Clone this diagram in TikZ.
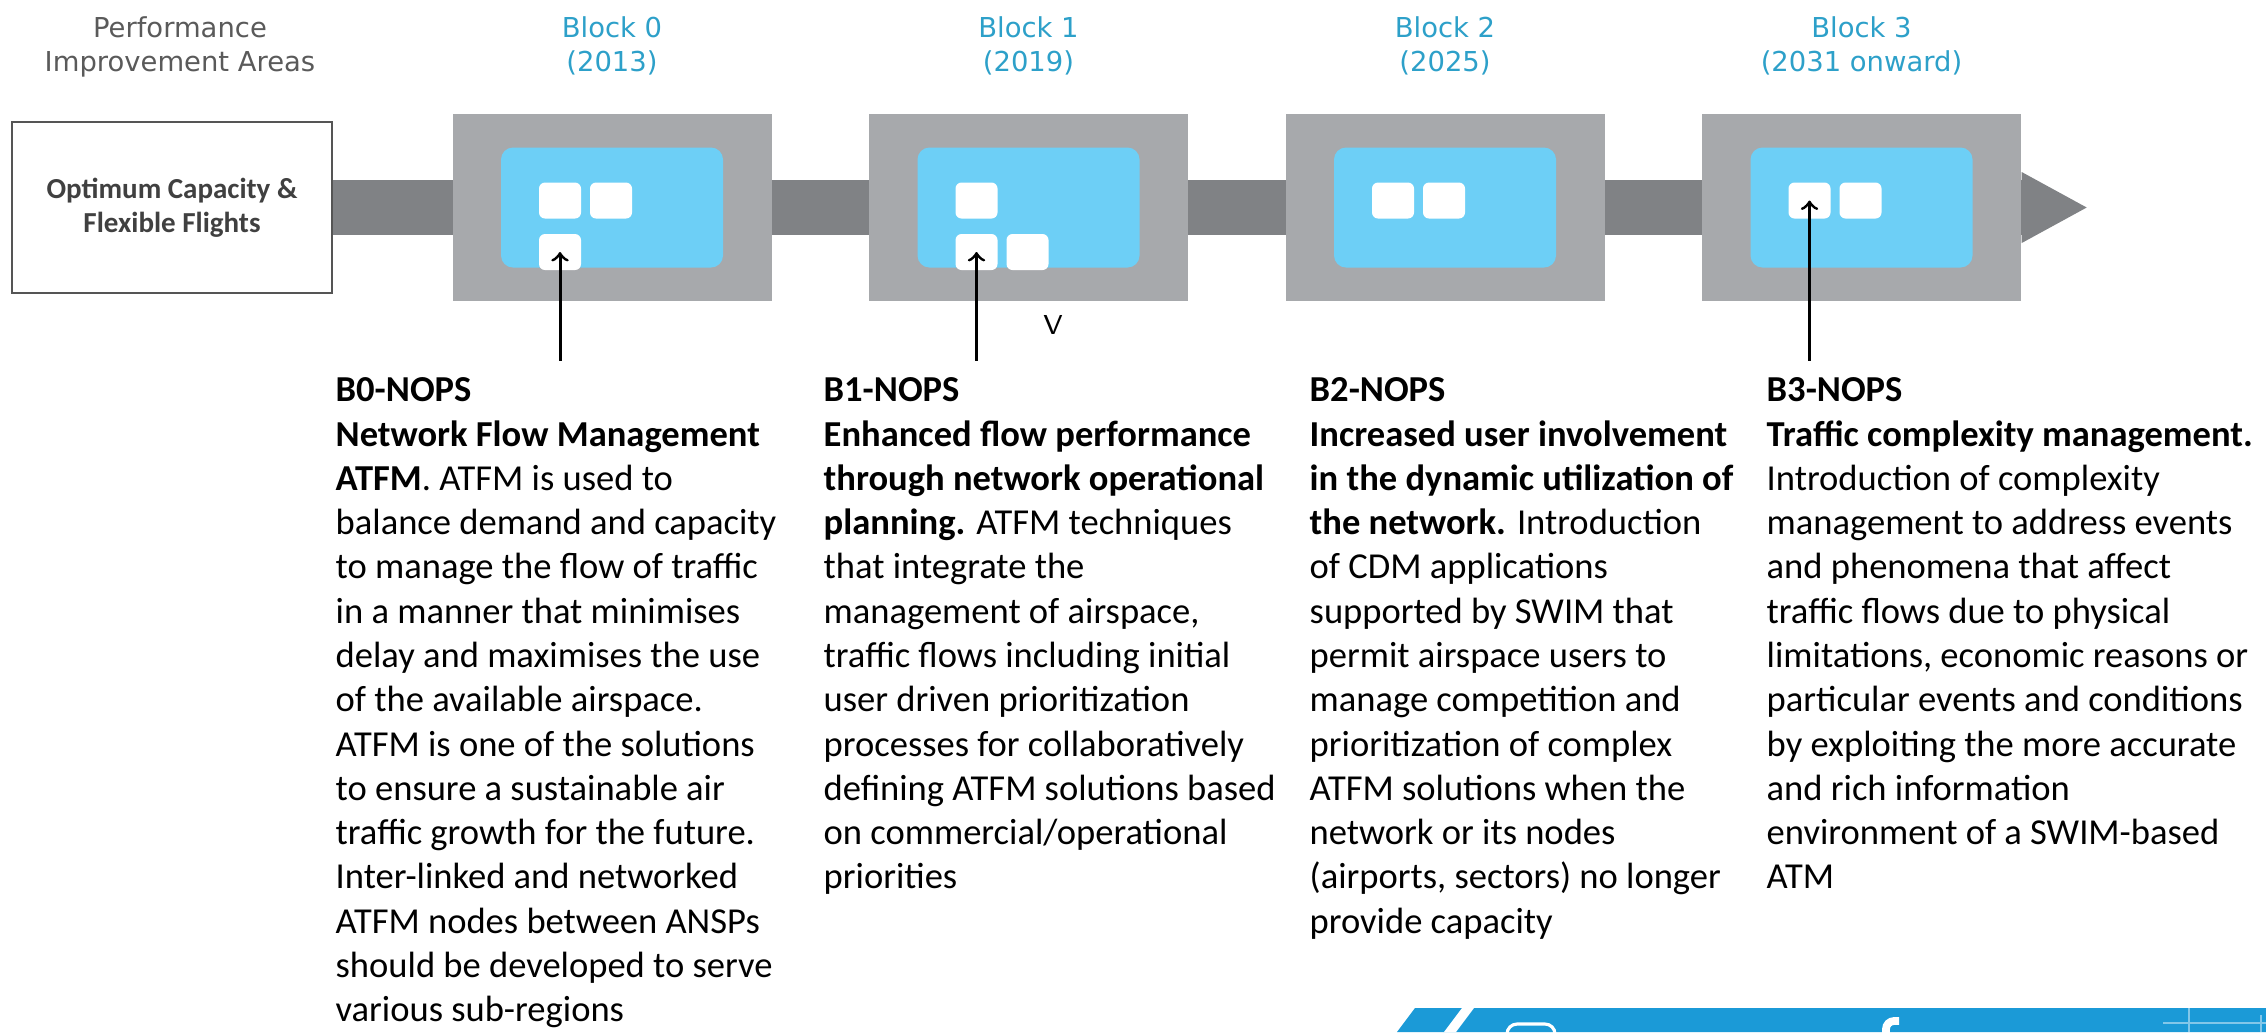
\documentclass[tikz,border=0pt]{standalone}
\usepackage{fontspec}
\setmainfont{Carlito}
\newfontfamily\dinfont{DejaVu Sans}
\usepackage{tikz}
\usetikzlibrary{arrows, positioning, backgrounds}

\definecolor{bargray}{HTML}{808285}
\definecolor{blockgray}{HTML}{A7A9AC}
\definecolor{panelblue}{HTML}{6DCFF6}
\definecolor{titleblue}{HTML}{2DA0C9}
\definecolor{headgray}{HTML}{5A5A5A}
\definecolor{boxgray}{HTML}{555555}
\definecolor{boxtext}{HTML}{404040}
\definecolor{bannerblue}{HTML}{1B9AD7}

\begin{document}
\begin{tikzpicture}[>=to,node distance=4.165cm,on grid,
	block/.style={fill=blockgray,minimum width=3.19cm,minimum height=1.87cm,inner sep=0pt},
	panel/.style={fill=panelblue,rounded corners=0.12cm,minimum width=2.22cm,minimum height=1.20cm,inner sep=0pt},
	tile/.style={fill=white,rounded corners=0.06cm,minimum width=0.42cm,minimum height=0.36cm,inner sep=0pt},
	blocktitle/.style={text=titleblue,align=center,inner sep=0pt,font=\dinfont\fontsize{7.8}{9.6}\selectfont},
	nops/.style={anchor=north west,align=left,inner sep=0pt,font=\fontsize{10.4}{12.6}\selectfont}]
				\useasboundingbox (0,0) rectangle (22.66,-10.32);
				
				\node[block] (B0) at (6.12,-2.075) {};
				\node[block] (B1) [right =of B0] {};
				\node[block] (B2) [right =of B1] {};
				\node[block] (B3) [right =of B2] {};
				
				\node[panel] (P0) at (B0) {};
				\node[panel] (P1) at (B1) {};
				\node[panel] (P2) at (B2) {};
				\node[panel] (P3) at (B3) {};
				
				\node[tile] (T0a) [below right=0.35 and 0.38 of P0.north west] {};
				\node[tile] (T0b) [below right=0.35 and 0.89 of P0.north west] {};
				\node[tile] (T0c) [below right=0.865 and 0.38 of P0.north west] {};
				\node[tile] (T1a) [below right=0.35 and 0.38 of P1.north west] {};
				\node[tile] (T1b) [below right=0.865 and 0.38 of P1.north west] {};
				\node[tile] (T1c) [below right=0.865 and 0.89 of P1.north west] {};
				\node[tile] (T2a) [below right=0.35 and 0.38 of P2.north west] {};
				\node[tile] (T2b) [below right=0.35 and 0.89 of P2.north west] {};
				\node[tile] (T3a) [below right=0.35 and 0.38 of P3.north west] {};
				\node[tile] (T3b) [below right=0.35 and 0.89 of P3.north west] {};
				
				\node[blocktitle] (Y0) [above=1.60 of B0] {\strut Block 0\\(2013)\strut};
				\node[blocktitle] (Y1) [above=1.60 of B1] {\strut Block 1\\(2019)\strut};
				\node[blocktitle] (Y2) [above=1.60 of B2] {\strut Block 2\\(2025)\strut};
				\node[blocktitle] (Y3) [above=1.60 of B3] {\strut Block 3\\(2031 onward)\strut};
				\node[blocktitle,text=headgray] (PIA) [left=4.32 of Y0] {\strut Performance\\Improvement Areas\strut};
				
				\node[draw=boxgray,line width=0.7pt,fill=white,minimum width=3.20cm,minimum height=1.71cm,
					align=center,text=boxtext,font=\bfseries\fontsize{8.25}{9.7}\selectfont] (Opt) [left=4.40 of B0] {Optimum Capacity \&\\Flexible Flights};
				
				\begin{pgfonlayer}{background}
					\fill[bargray] (Opt.east |- 0,-1.80) rectangle (B3.east |- 0,-2.35);
					\fill[bargray] (B3.east |- 0,-1.72) -- ++(0.65,-0.355) -- (B3.east |- 0,-2.43) -- cycle;
				\end{pgfonlayer}
				
				\tikzset{pointer/.style={->,line width=0.85pt}}
				\path (T0c) ++(0,-1.085) coordinate (A0);
				\path (T1b) ++(0,-1.085) coordinate (A1);
				\path (T3a) ++(0,-1.60) coordinate (A3);
				\draw[pointer] (A0) -- (T0c.center);
				\draw[pointer] (A1) -- (T1b.center);
				\draw[pointer] (A3) -- (T3a.center);
				
				\node[font=\sffamily\fontsize{7.8}{9}\selectfont,inner sep=0pt] (vmark) at (10.53,-3.25) {V};
				
				\node[nops] (N0) at (3.35,-3.70) {\strut\textbf{B0-NOPS}\\
					\textbf{Network Flow Management}\\
					\textbf{ATFM}. ATFM is used to\\
					balance demand and capacity\\
					to manage the flow of traffic\\
					in a manner that minimises\\
					delay and maximises the use\\
					of the available airspace.\\
					ATFM is one of the solutions\\
					to ensure a sustainable air\\
					traffic growth for the future.\\
					Inter-linked and networked\\
					ATFM nodes between ANSPs\\
					should be developed to serve\\
					various sub-regions};
				\node[nops] (N1) at (8.23,-3.70) {\strut\textbf{B1-NOPS}\\
					\textbf{Enhanced flow performance}\\
					\textbf{through network operational}\\
					\textbf{planning.} ATFM techniques\\
					that integrate the\\
					management of airspace,\\
					traffic flows including initial\\
					user driven prioritization\\
					processes for collaboratively\\
					defining ATFM solutions based\\
					on commercial/operational\\
					priorities};
				\node[nops] (N2) at (13.09,-3.70) {\strut\textbf{B2-NOPS}\\
					\textbf{Increased user involvement}\\
					\textbf{in the dynamic utilization of}\\
					\textbf{the network.} Introduction\\
					of CDM applications\\
					supported by SWIM that\\
					permit airspace users to\\
					manage competition and\\
					prioritization of complex\\
					ATFM solutions when the\\
					network or its nodes\\
					(airports, sectors) no longer\\
					provide capacity};
				\node[nops] (N3) at (17.66,-3.70) {\strut\textbf{B3-NOPS}\\
					\textbf{Traffic complexity management.}\\
					Introduction of complexity\\
					management to address events\\
					and phenomena that affect\\
					traffic flows due to physical\\
					limitations, economic reasons or\\
					particular events and conditions\\
					by exploiting the more accurate\\
					and rich information\\
					environment of a SWIM-based\\
					ATM};
				
				% banner cut off at the bottom
				\begin{scope}
					\clip (0,0) rectangle (22.66,-10.32);
					\fill[bannerblue] (13.97,-10.32) -- (14.15,-10.08) -- (22.66,-10.08) -- (22.66,-10.32) -- cycle;
					\fill[white] (14.62,-10.08) -- (14.74,-10.08) -- (14.56,-10.32) -- (14.44,-10.32) -- cycle;
					\draw[white,line width=0.9pt,rounded corners=0.1cm] (15.07,-10.24) rectangle (15.55,-10.72);
					\draw[white,line width=2.2pt] (18.86,-10.40) -- (18.86,-10.29) arc (180:90:0.08) -- ++(0.05,0);
					\draw[white!45!bannerblue,line width=0.4pt] (21.63,-10.23) -- (22.66,-10.23) (21.89,-10.08) -- (21.89,-10.32) (22.61,-10.15) -- (22.61,-10.32);
				\end{scope}
			\end{tikzpicture}
\end{document}
